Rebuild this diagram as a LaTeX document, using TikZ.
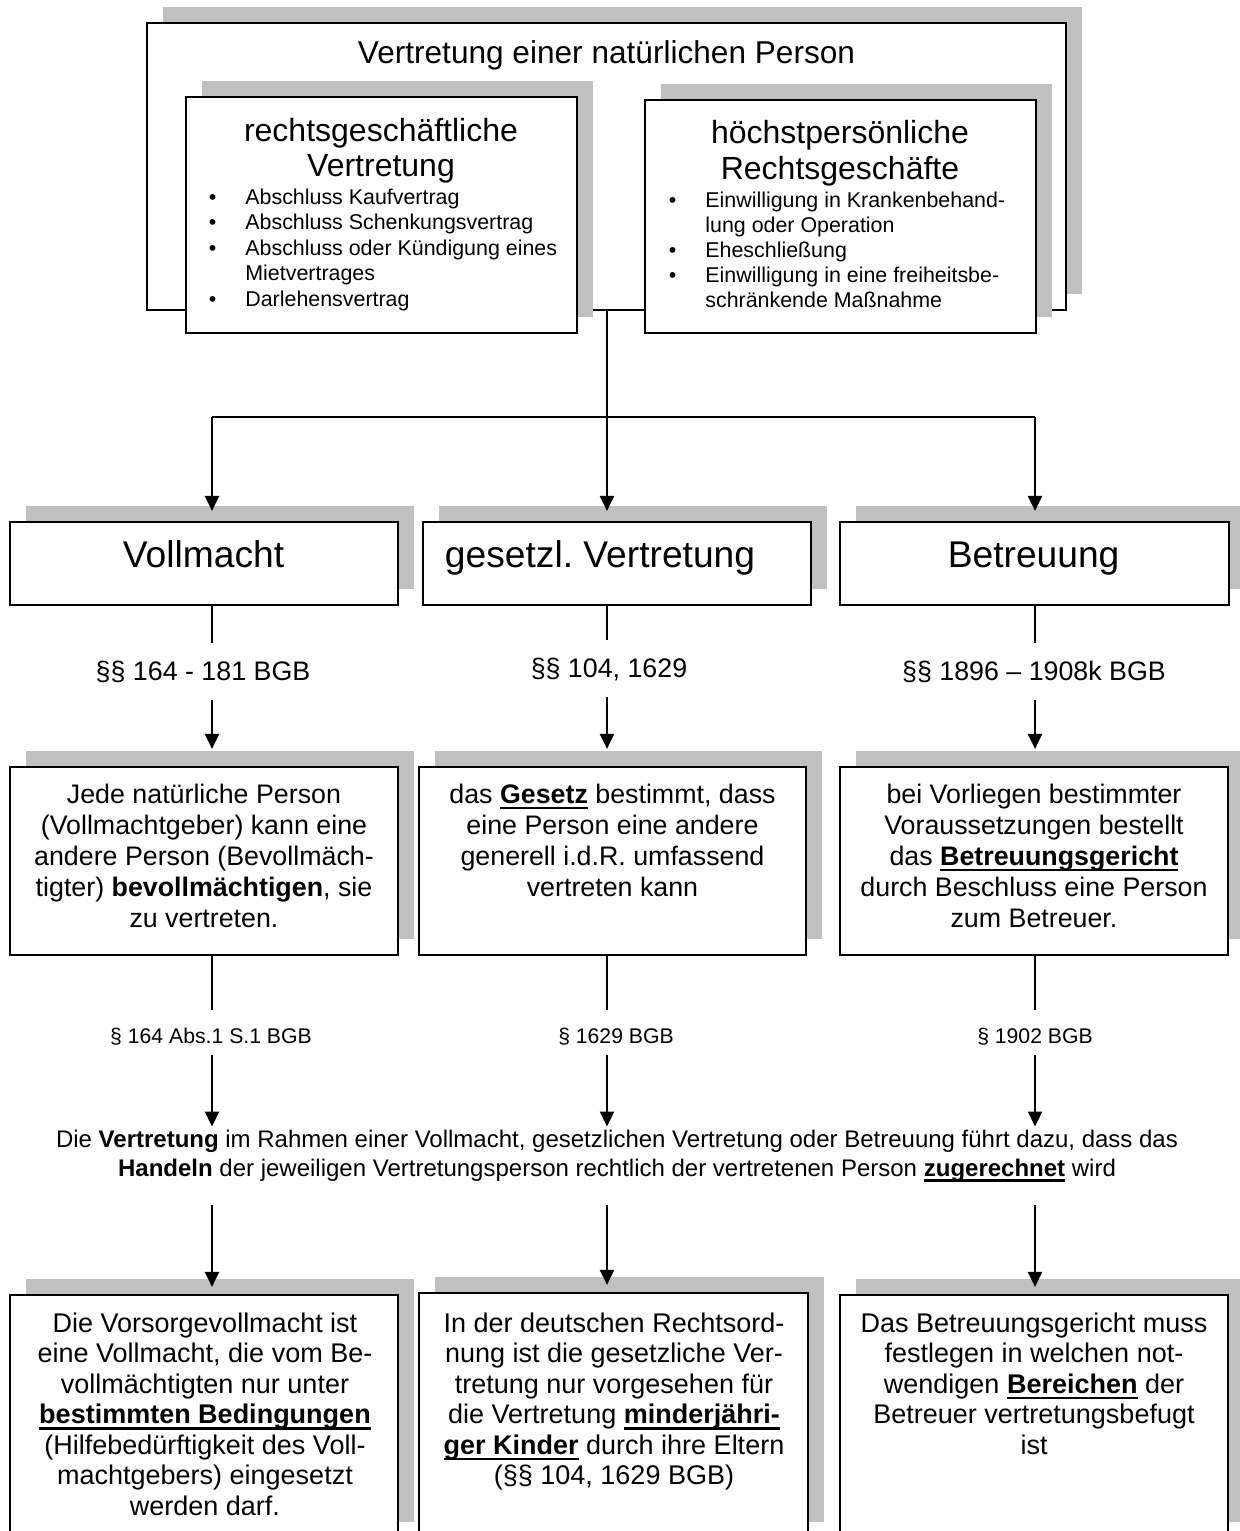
\documentclass[tikz,border=0pt]{standalone}
\usepackage{fontspec}
\setmainfont{Liberation Sans}
\usetikzlibrary{arrows.meta}
\definecolor{shadowgray}{RGB}{192,192,192}
\frenchspacing

% bold text with a heavy underline
\newcommand\ubf[1]{\leavevmode\setbox0\hbox{\bfseries #1}\rlap{\vrule height -1.6pt depth 3pt width \wd0}\box0\relax}
% bullet hanging left of a list line
\newcommand\bul{\leavevmode\llap{•\hspace{14.5pt}}}

\tikzset{
  panelbox/.style={draw=black, line width=1.1pt, fill=white, inner sep=0pt},
  conn/.style={line width=1.1pt},
  arr/.style={conn, -{Triangle[length=7.5pt,width=7pt]}},
  txt/.style={inner sep=0pt, align=center, anchor=north},
  listtxt/.style={inner sep=0pt, align=left, anchor=north west},
  oneline/.style={inner sep=0pt, anchor=base},
  headfont/.style={font=\fontsize{16}{17.5}\selectfont},
  listfont/.style={font=\fontsize{10.7}{12.75}\selectfont},
  bigfont/.style={font=\fontsize{18.6}{21}\selectfont},
  bodyfont/.style={font=\fontsize{13.4}{15.5}\selectfont},
  lowfont/.style={font=\fontsize{13.5}{15.25}\selectfont},
  notefont/.style={font=\fontsize{10.6}{12.5}\selectfont},
  midfont/.style={font=\fontsize{12}{14.5}\selectfont},
  paralabel/.style={oneline, bodyfont, text height=18.5pt, text depth=10pt},
  smalllabel/.style={oneline, notefont, text height=16.5pt, text depth=6pt},
}

% framed box with its grey shadow offset up and to the right
% #1 name, #2 left, #3 top, #4 right, #5 bottom
\newcommand\panel[5]{%
  \fill[shadowgray] ({#2+16},{#3-16}) rectangle ({#4+16},{#5-16});
  \node[panelbox, minimum width={(#4-#2)*0.5pt}, minimum height={(#5-#3)*0.5pt}]
    (#1) at ({(#2+#4)/2},{(#3+#5)/2}) {};
}

\begin{document}
\begin{tikzpicture}[x=0.5pt, y=-0.5pt]
\clip (0,0) rectangle (1240,1531);
\fill[white] (0,0) rectangle (1240,1531);

% ---- top group ----
\panel{O}{147}{23}{1066}{310}
\panel{A}{186}{97}{577}{333}
\panel{B}{645}{100}{1036}{333}

\node[oneline, font=\fontsize{15.8}{18}\selectfont] (Ot) at (606.5,63) {Vertretung einer natürlichen Person};

\node[txt, headfont] (At) at (381,116.5) {\strut rechtsgeschäftliche\\Vertretung};
\node[listtxt, listfont] (Al) at (245,186.15)
  {\bul\strut Abschluss Kaufvertrag\\
   \bul Abschluss Schenkungsvertrag\\
   \bul Abschluss oder Kündigung eines\\
   Mietvertrages\\
   \bul Darlehensvertrag};

\node[txt, font=\fontsize{16}{18}\selectfont] (Bt) at (840,117.5) {\strut höchstpersönliche\\Rechtsgeschäfte};
\node[listtxt, font=\fontsize{10.7}{12.5}\selectfont] (Bl) at (705,189.5)
  {\bul\strut Einwilligung in Krankenbehand-\\
   lung oder Operation\\
   \bul Eheschließung\\
   \bul Einwilligung in eine freiheitsbe-\\
   schränkende Maßnahme};

% ---- three kinds of representation ----
\panel{V1}{10}{522}{398}{605}
\panel{V2}{423}{522}{811}{605}
\panel{V3}{840}{522}{1229}{605}
\node[oneline, bigfont] (V1t) at (203.5,567) {Vollmacht};
\node[oneline, bigfont] (V2t) at (600,567) {gesetzl. Vertretung};
\node[oneline, bigfont] (V3t) at (1033.6,567) {Betreuung};

% ---- legal basis ----
\node[paralabel] (L1) at (203,680) {§§ 164 - 181 BGB};
\node[paralabel] (L2) at (609,677) {§§ 104, 1629};
\node[paralabel] (L3) at (1034,680) {§§ 1896 – 1908k BGB};

% ---- descriptions ----
\panel{D1}{10}{767}{398}{955}
\panel{D2}{419}{767}{806}{955}
\panel{D3}{840}{767}{1228}{955}
\node[txt, bodyfont] (D1t) at (204,781.3)
  {\strut Jede natürliche Person\\(Vollmachtgeber) kann eine\\andere Person (Bevollmäch-\\tigter) \textbf{bevollmächtigen}, sie\\zu vertreten.};
\node[txt, bodyfont] (D2t) at (612.5,781.3)
  {\strut das \ubf{Gesetz} bestimmt, dass\\eine Person eine andere\\generell i.d.R. umfassend\\vertreten kann};
\node[txt, bodyfont] (D3t) at (1034,781.3)
  {\strut bei Vorliegen bestimmter\\Voraussetzungen bestellt\\das \ubf{Betreuungsgericht}\\durch Beschluss eine Person\\zum Betreuer.};

% ---- single provisions ----
\node[smalllabel] (K1) at (211,1043) {§ 164 Abs.1 S.1 BGB};
\node[smalllabel] (K2) at (616,1043) {§ 1629 BGB};
\node[smalllabel] (K3) at (1035,1043) {§ 1902 BGB};

% ---- common consequence ----
\node[txt, midfont] (M) at (617,1126.5)
  {\strut Die \textbf{Vertretung} im Rahmen einer Vollmacht, gesetzlichen Vertretung oder Betreuung führt dazu, dass das\\
   \textbf{Handeln} der jeweiligen Vertretungsperson rechtlich der vertretenen Person \ubf{zugerechnet} wird\strut};

% ---- details ----
\panel{E1}{10}{1295}{398}{1538}
\panel{E2}{419}{1293}{808}{1538}
\panel{E3}{840}{1295}{1228}{1538}
\node[txt, lowfont] (E1t) at (205,1310.65)
  {\strut Die Vorsorgevollmacht ist\\eine Vollmacht, die vom Be-\\vollmächtigten nur unter\\\ubf{bestimmten Bedingungen}\\(Hilfebedürftigkeit des Voll-\\machtgebers) eingesetzt\\werden darf.};
\node[txt, lowfont] (E2t) at (614,1310.65)
  {\strut In der deutschen Rechtsord-\\nung ist die gesetzliche Ver-\\tretung nur vorgesehen für\\die Vertretung \ubf{minderjähri-}\\\ubf{ger Kinder} durch ihre Eltern\\(§§ 104, 1629 BGB)};
\node[txt, lowfont] (E3t) at (1034,1310.65)
  {\strut Das Betreuungsgericht muss\\festlegen in welchen not-\\wendigen \ubf{Bereichen} der\\Betreuer vertretungsbefugt\\ist};

% ---- connectors ----
\coordinate (hub) at (607,417);
\coordinate (c1) at (212,0);
\coordinate (c2) at (hub);
\coordinate (c3) at (1035,0);

\draw[conn] (hub |- O.south) -- (hub);
\draw[conn] (hub -| c1) -- (hub -| c3);
\foreach \i in {1,2,3} {
  \draw[arr, shorten >=5pt] (hub -| c\i) -- (V\i.north -| c\i);
  \draw[conn] (V\i.south -| c\i) -- (L\i.north -| c\i);
  \draw[arr, shorten >=8.5pt] (L\i.south -| c\i) -- (D\i.north -| c\i);
  \draw[conn] (D\i.south -| c\i) -- (K\i.north -| c\i);
  \draw[arr] (K\i.south -| c\i) -- (M.north -| c\i);
  \draw[arr, shorten <=10pt, shorten >=3.5pt] (M.south -| c\i) -- (E\i.north -| c\i);
}
\end{tikzpicture}
\end{document}
